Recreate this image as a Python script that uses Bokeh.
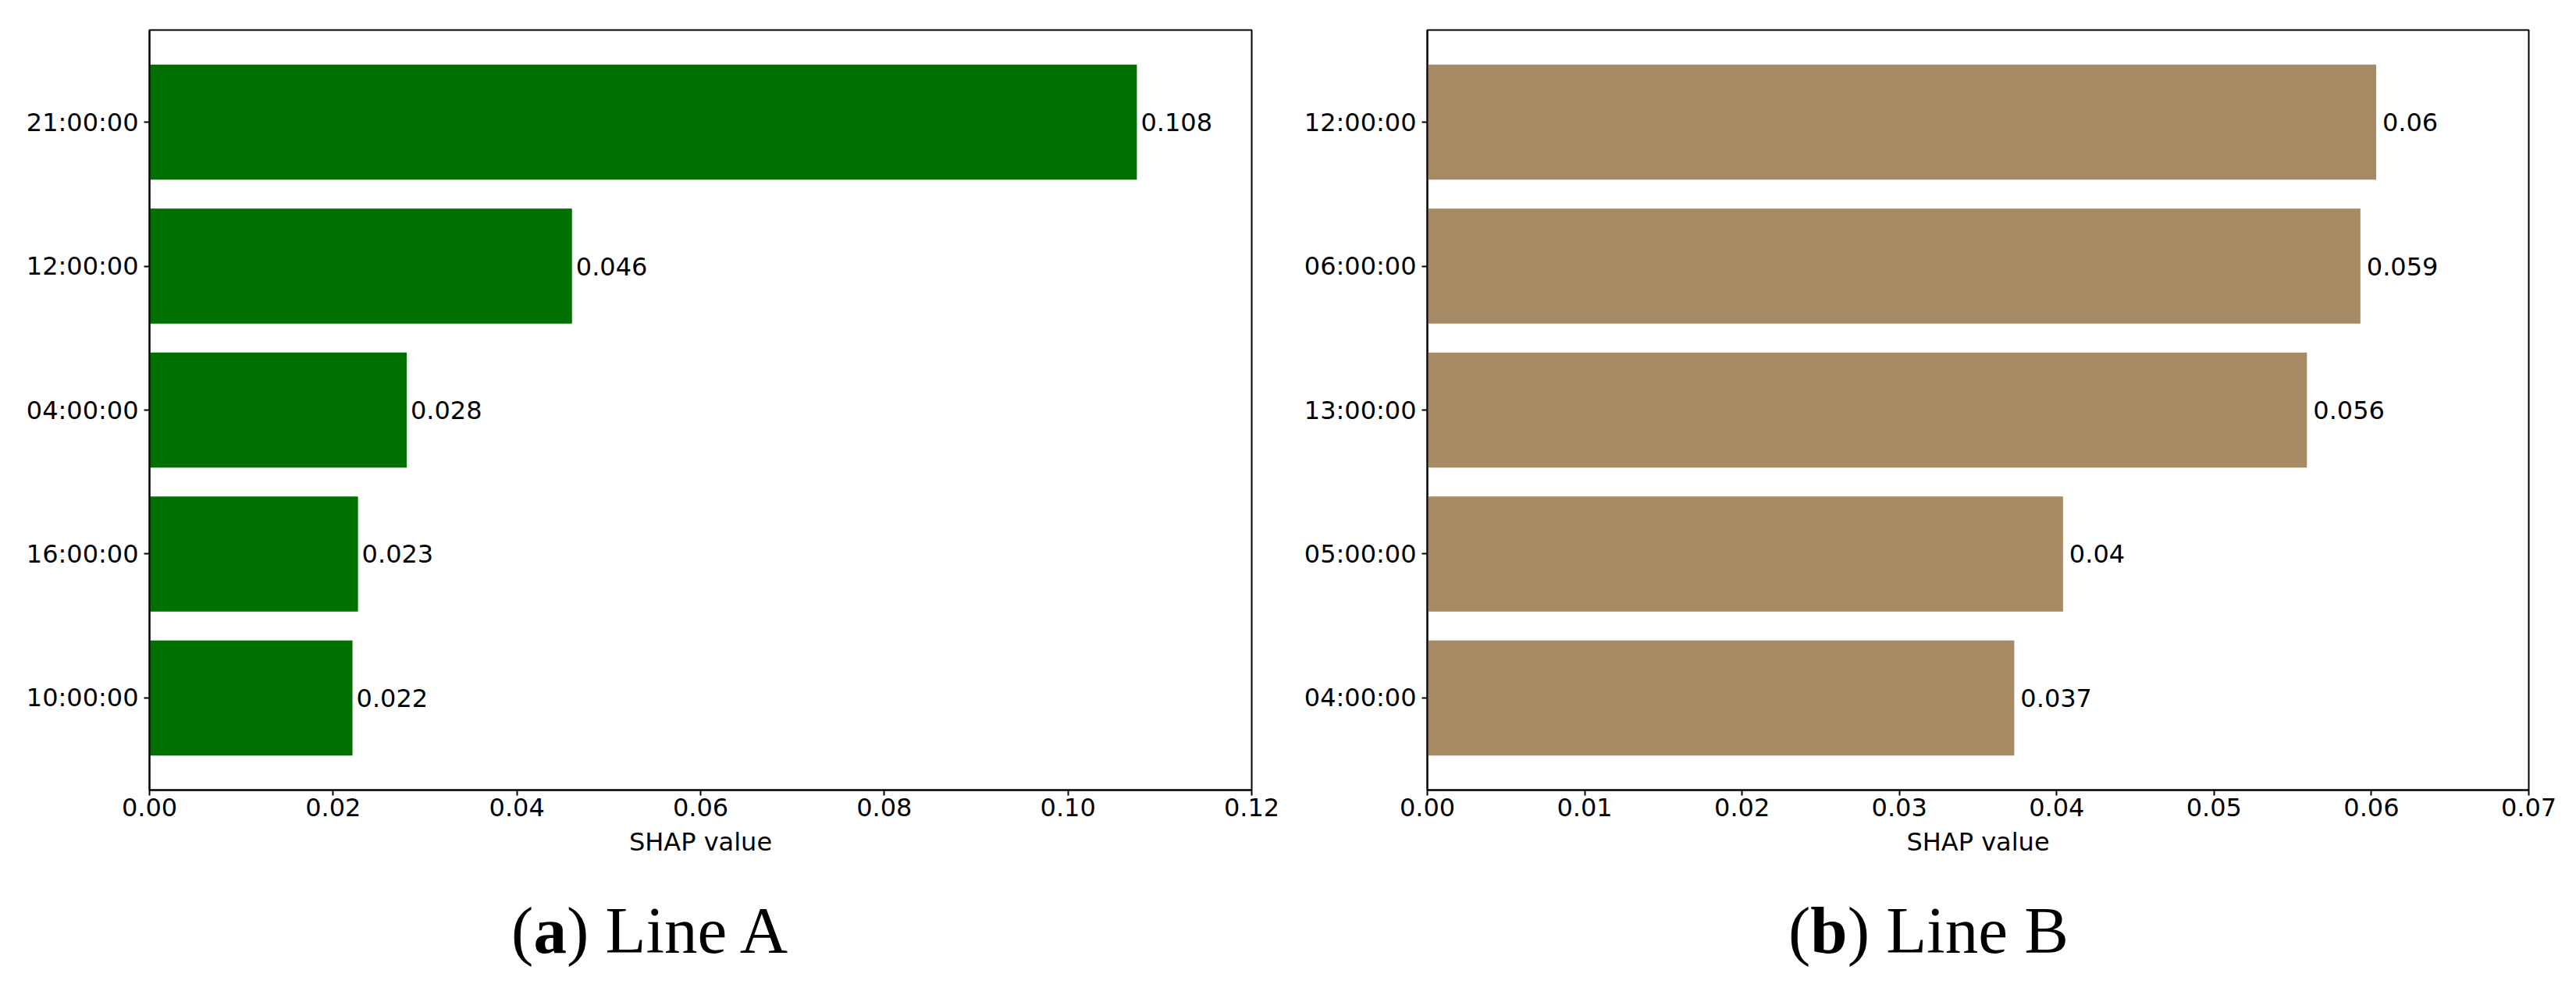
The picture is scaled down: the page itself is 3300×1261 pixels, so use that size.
from bokeh.plotting import figure
from bokeh.models import Range1d, FactorRange, FixedTicker, PrintfTickFormatter, ColumnDataSource
from bokeh.layouts import column, row
from bokeh.embed import file_html
from bokeh.resources import INLINE
from bokeh.core.properties import value

# ---- data ----
cats_a = ["21:00:00", "12:00:00", "04:00:00", "16:00:00", "10:00:00"]
vals_a = [0.1075, 0.0460, 0.0280, 0.0227, 0.0221]
labels_a = ["0.108", "0.046", "0.028", "0.023", "0.022"]

cats_b = ["12:00:00", "06:00:00", "13:00:00", "05:00:00", "04:00:00"]
vals_b = [0.0603, 0.0593, 0.0559, 0.0404, 0.0373]
labels_b = ["0.06", "0.059", "0.056", "0.04", "0.037"]

ticks_a = [0.00, 0.02, 0.04, 0.06, 0.08, 0.10, 0.12]
ticks_b = [0.00, 0.01, 0.02, 0.03, 0.04, 0.05, 0.06, 0.07]

xlabel = "SHAP value"
FONT = "DejaVu Sans"


def make_panel(cats, vals, labels, ticks, xmax, color, mbl, mbr, label_off, fw):
    w = mbl + fw + mbr
    p = figure(width=w, height=1130,
               y_range=FactorRange(factors=list(reversed(cats)), range_padding=0.056),
               x_range=Range1d(0, xmax),
               toolbar_location=None, output_backend="svg",
               min_border_left=mbl, min_border_right=mbr,
               min_border_top=38, min_border_bottom=118)
    src = ColumnDataSource(dict(cat=cats, val=vals, lbl=labels))
    p.hbar(y="cat", right="val", left=0, height=0.8, source=src,
           fill_color=color, line_color=None)
    p.text(x="val", y="cat", text="lbl", source=src, x_offset=label_off,
           text_baseline="middle", text_align="left",
           text_font=value(FONT), text_font_size="32px", text_color="black")
    p.grid.visible = False
    p.background_fill_color = "white"
    p.border_fill_color = "white"
    p.outline_line_color = "black"
    p.outline_line_width = 2
    p.outline_line_alpha = 1

    p.xaxis.ticker = FixedTicker(ticks=ticks)
    p.xaxis.formatter = PrintfTickFormatter(format="%.2f")
    p.xaxis.axis_label = xlabel
    p.xaxis.axis_label_text_font_style = "normal"
    p.xaxis.axis_label_text_font = FONT
    p.xaxis.axis_label_text_font_size = "32px"
    p.xaxis.axis_label_text_color = "black"
    p.xaxis.axis_label_standoff = 11
    p.xaxis.major_label_standoff = 3
    p.yaxis.major_label_standoff = 7
    for ax in (p.xaxis, p.yaxis):
        ax.axis_line_color = "black"
        ax.axis_line_width = 2
        ax.major_tick_line_color = "black"
        ax.major_tick_line_width = 2
        ax.major_tick_out = 7
        ax.major_tick_in = 0
        ax.minor_tick_line_color = None
        ax.major_label_text_font = FONT
        ax.major_label_text_font_size = "32px"
        ax.major_label_text_color = "black"
    return p


p1 = make_panel(cats_a, vals_a, labels_a, ticks_a, 0.12, "#007000", 191, 40, 5, 1412)
p2 = make_panel(cats_b, vals_b, labels_b, ticks_b, 0.07, "#a68a64", 185, 45, 8, 1411)

W = p1.width + p2.width
cap = figure(width=W, height=123, x_range=Range1d(0, W), y_range=Range1d(0, 123),
             toolbar_location=None, output_backend="svg", min_border=0,
             x_axis_location=None, y_axis_location=None)
cap.grid.visible = False
cap.outline_line_color = None
cap.background_fill_color = "white"
cap.border_fill_color = "white"

SERIF = "Liberation Serif"
fs = 85
base_y = 62
captions = [("a", "Line A", 834), ("b", "Line B", 2470)]
bold_w = {"a": 0.5, "b": 0.556}
tail_w = {"Line A": 3.388, "Line B": 3.333}
for letter, name, center in captions:
    total = (0.333 + bold_w[letter] + tail_w[name]) * fs
    x0 = center - total / 2
    cap.text(x=[x0], y=[base_y], text=["("], text_font=value(SERIF),
             text_font_style="normal", text_font_size=f"{fs}px",
             text_baseline="alphabetic", text_align="left", text_color="black")
    cap.text(x=[x0 + 0.333 * fs], y=[base_y], text=[letter], text_font=value(SERIF),
             text_font_style="bold", text_font_size=f"{fs}px",
             text_baseline="alphabetic", text_align="left", text_color="black")
    cap.text(x=[x0 + (0.333 + bold_w[letter]) * fs], y=[base_y], text=[") " + name],
             text_font=value(SERIF), text_font_style="normal", text_font_size=f"{fs}px",
             text_baseline="alphabetic", text_align="left", text_color="black")

layout = column(row(p1, p2), cap)
open("out.html", "w").write(file_html(layout, INLINE))
